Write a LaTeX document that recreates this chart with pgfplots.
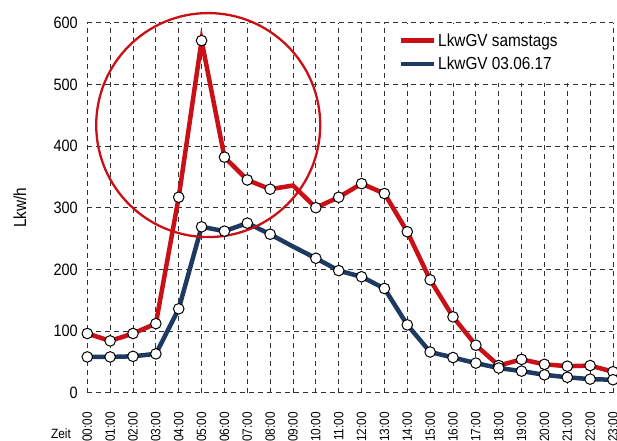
\documentclass[border=0pt]{standalone}
\usepackage{pgfplots}
\pgfplotsset{compat=1.18}
\usepackage{fontspec}
\setmainfont{Liberation Sans}[FakeStretch=0.88]
\definecolor{cred}{RGB}{200,16,22}
\definecolor{cblue}{RGB}{30,58,96}
\begin{document}
\begin{tikzpicture}
\begin{axis}[
  name=ax,
  scale only axis,
  width=525.7bp, height=370bp,
  xmin=0, xmax=23, ymin=0, ymax=600,
  xtick={0,...,23},
  xticklabels={00:00,01:00,02:00,03:00,04:00,05:00,06:00,07:00,08:00,09:00,10:00,11:00,12:00,13:00,14:00,15:00,16:00,17:00,18:00,19:00,20:00,21:00,22:00,23:00},
  ytick={0,100,...,600},
  /pgf/number format/assume math mode=true,
  xticklabel style={rotate=90, anchor=east, font=\fontsize{13.5}{15}\selectfont},
  yticklabel style={font=\fontsize{16.5}{18}\selectfont},
  xticklabel shift=16bp,
  yticklabel shift=6bp,
  major tick length=0pt,
  axis line style={draw=none},
  grid=major,
  major grid style={black!80, line width=0.9bp, dash pattern=on 5bp off 4bp},
  ylabel={Lkw/h},
  ylabel style={at={(axis description cs:-0.128,0.5)}, anchor=center, font=\fontsize{17.5}{19}\selectfont},
  clip=false,
  legend cell align=left,
  legend style={at={(axis description cs:0.593,0.975)}, anchor=north west, draw=none, fill=none,
    inner sep=0pt, row sep=6.3bp, font=\fontsize{17.5}{19}\selectfont,
    nodes={inner sep=1.5bp}, /tikz/every even column/.append style={column sep=17bp}},
  legend image code/.code={\draw[#1, mark=none, line width=4.5bp] (0bp,0bp) -- (33bp,0bp);},
  every axis plot/.append style={line width=4.5bp, mark=*, mark size=5.3bp,
    mark options={draw=black, fill=white, line width=1bp, solid}},
]
\fill[white] (axis cs:13.5,502) rectangle (axis cs:22.93,597);
\addplot[cred, mark indices={1,2,3,4,5,6,7,8,9,11,12,13,14,15,16,17,18,19,20,21,22,23,24}] coordinates {
 (0,96) (1,84) (2,96) (3,112) (4,317) (5,571) (6,382) (7,345) (8,330) (9,336)
 (10,300) (11,317) (12,339) (13,323) (14,261) (15,183) (16,123) (17,77) (18,44)
 (19,54) (20,46) (21,43) (22,44) (23,34)};
\addlegendentry{LkwGV samstags}
\addplot[cblue, mark indices={1,2,3,4,5,6,7,8,9,11,12,13,14,15,16,17,18,19,20,21,22,23,24}] coordinates {
 (0,58) (1,58) (2,59) (3,63) (4,136) (5,269) (6,262) (7,275) (8,257) (9,237)
 (10,218) (11,198) (12,188) (13,169) (14,110) (15,66) (16,57) (17,48) (18,40)
 (19,35) (20,29) (21,25) (22,22) (23,21)};
\addlegendentry{LkwGV 03.06.17}
\draw[cred, line width=2.3bp] (axis cs:5.29,434) ellipse [x radius=4.9, y radius=181.6];
\node[font=\fontsize{13.5}{15}\selectfont, anchor=center] at (axis description cs:-0.05,-0.112) {Zeit};
\end{axis}
\pgfresetboundingbox
\useasboundingbox ([xshift=-87.3bp,yshift=-48.3bp]ax.south west) rectangle ([xshift=4bp,yshift=22.7bp]ax.north east);
\end{tikzpicture}
\end{document}
